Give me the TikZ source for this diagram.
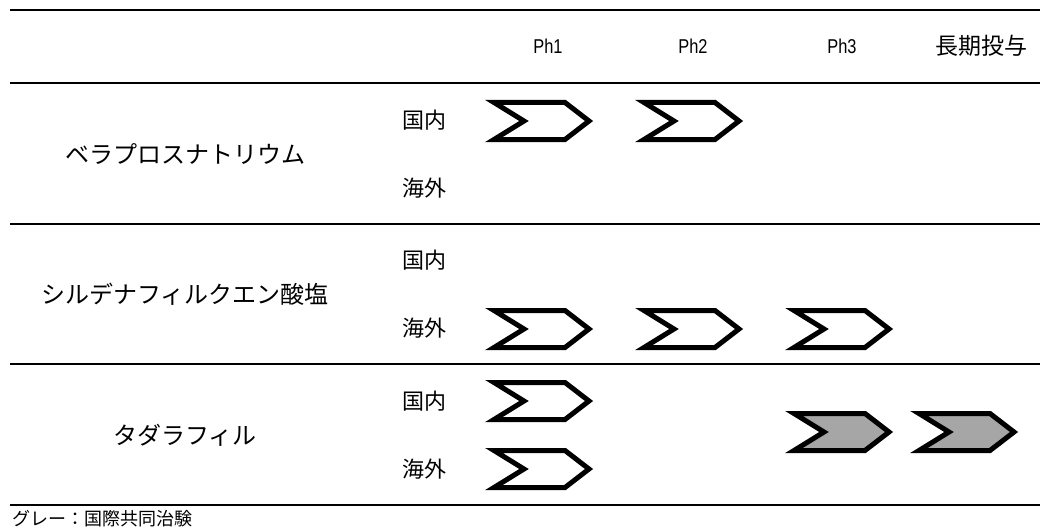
\documentclass[tikz,border=0pt]{standalone}
\usepackage{fontspec}
\setmainfont{Liberation Sans}
\newfontfamily\jp{Noto Sans CJK JP}
\definecolor{chevgray}{RGB}{166,166,166}
\newcommand\narrowtxt[1]{\scalebox{0.82}[1]{#1}}
\tikzset{
  rule/.style={line width=2.6pt},
  hdr/.style={font=\fontsize{20}{22}\selectfont, inner sep=0pt},
  hdrjp/.style={font=\jp\fontsize{23}{25}\selectfont, inner sep=0pt},
  drug/.style={font=\jp\fontsize{24}{27}\selectfont, inner sep=0pt},
  region/.style={font=\jp\fontsize{22}{24}\selectfont, inner sep=0pt},
  legend/.style={font=\jp\fontsize{18}{20}\selectfont, inner sep=0pt, anchor=west},
  chevline/.style={line width=5pt, line join=miter, miter limit=20},
  pics/chev/.style={code={
    \draw[chevline, fill=#1] (-46,-18.5) -- (25,-18.5) -- (49,0) -- (25,18.5) -- (-46,18.5) -- (-16,0) -- cycle;
  }},
}
\begin{document}
\begin{tikzpicture}[x=1pt,y=-1pt]
\useasboundingbox (0,0) rectangle (1040,532);
% rules
\coordinate (l0a) at (10,10);  \coordinate (l0b) at (1040,10);
\coordinate (l1a) at (10,83);  \coordinate (l1b) at (1040,83);
\coordinate (l2a) at (10,224); \coordinate (l2b) at (1040,224);
\coordinate (l3a) at (10,364); \coordinate (l3b) at (1040,364);
\coordinate (l4a) at (10,505); \coordinate (l4b) at (1040,505);
\draw[rule] (l0a) -- (l0b);
\draw[rule] (l1a) -- (l1b);
\draw[rule] (l2a) -- (l2b);
\draw[rule] (l3a) -- (l3b);
\draw[rule] (l4a) -- (l4b);
% header
\node[hdr] (ph1) at (548,46) {\narrowtxt{Ph1}};
\node[hdr] (ph2) at (693,46) {\narrowtxt{Ph2}};
\node[hdr] (ph3) at (842,46) {\narrowtxt{Ph3}};
\node[hdrjp] (lt) at (981,46) {長期投与};
% drugs
\node[drug] (d1) at (185,154) {ベラプロスナトリウム};
\node[drug] (d2) at (185,294) {シルデナフィルクエン酸塩};
\node[drug] (d3) at (185,435) {タダラフィル};
% regions
\node[region] (r1a) at (424,120) {国内};
\node[region] (r1b) at (424,188) {海外};
\node[region] (r2a) at (424,260) {国内};
\node[region] (r2b) at (424,328) {海外};
\node[region] (r3a) at (424,401) {国内};
\node[region] (r3b) at (424,469) {海外};
% chevrons
\pic at (540,121) {chev=white};
\pic at (690,121) {chev=white};
\pic at (540,329) {chev=white};
\pic at (690,329) {chev=white};
\pic at (840,329) {chev=white};
\pic at (540,401) {chev=white};
\pic at (540,469) {chev=white};
\pic at (840,432) {chev=chevgray};
\pic at (965,432) {chev=chevgray};
% legend
\node[legend] (lg) at (12,519) {グレー：国際共同治験};
\end{tikzpicture}
\end{document}
